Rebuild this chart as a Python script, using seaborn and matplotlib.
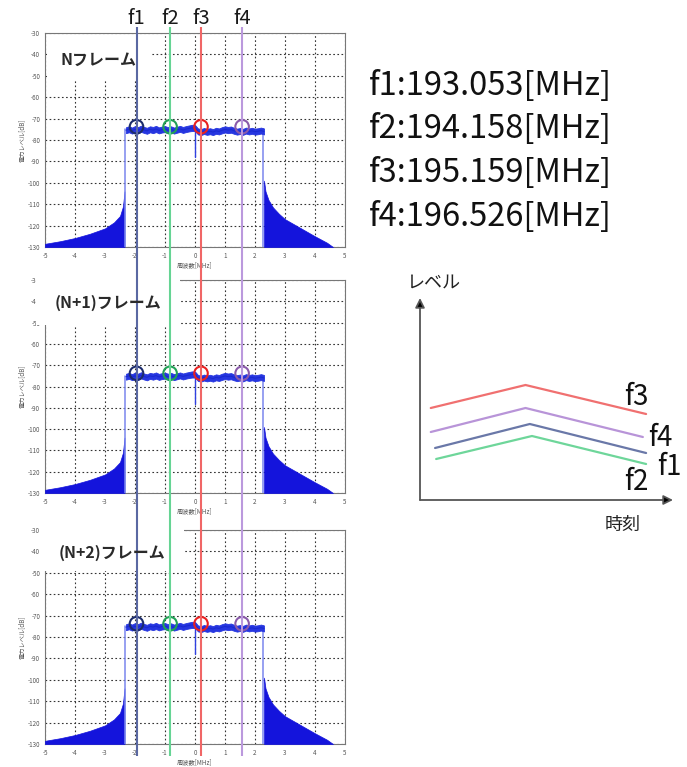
import numpy as np
import pandas as pd
import matplotlib
matplotlib.use("Agg")
import matplotlib.pyplot as plt
import seaborn as sns
from matplotlib.patches import Rectangle

sns.set_theme(style="white")
plt.rcParams['font.family'] = ['Noto Sans CJK JP', 'DejaVu Sans']

W, H = 687, 767

# ---------------- data ----------------
frame_labels = ["Nフレーム", "(N+1)フレーム", "(N+2)フレーム"]
marker_names = ["f1", "f2", "f3", "f4"]
marker_offsets = [-1.95, -0.83, 0.20, 1.57]          # MHz (relative)
marker_levels = [-73.8, -73.8, -73.8, -73.8]          # dB
freq_texts = ["f1:193.053[MHz]", "f2:194.158[MHz]", "f3:195.159[MHz]", "f4:196.526[MHz]"]
line_colors = ["#5a68a2", "#66d494", "#f06666", "#bb99dd"]
circle_colors = ["#1c2c6c", "#22a055", "#e82020", "#8a5aaa"]

x_ticks = [-5, -4, -3, -2, -1, 0, 1, 2, 3, 4, 5]
y_ticks = [-130, -120, -110, -100, -90, -80, -70, -60, -50, -40, -30]

plateau_x = [-2.3, -2.2, -2.1, -2.0, -1.9, -1.8, -1.7, -1.6, -1.5, -1.4, -1.3, -1.2,
             -1.1, -1.0, -0.9, -0.8, -0.7, -0.6, -0.5, -0.4, -0.3, -0.2, -0.1,
             0.0, 0.1, 0.2, 0.3, 0.4, 0.5, 0.6, 0.7, 0.8, 0.9, 1.0, 1.1, 1.2,
             1.3, 1.4, 1.5, 1.6, 1.7, 1.8, 1.9, 2.0, 2.1, 2.2, 2.3]
plateau_top = [-74.0, -73.6, -74.2, -73.5, -74.0, -73.3, -73.9, -74.3, -73.6, -73.9, -73.4, -74.1,
               -73.7, -73.5, -74.0, -73.6, -74.2, -73.8, -73.4, -73.9, -73.5, -73.2, -72.9,
               -73.0, -74.6, -74.9, -74.4, -74.8, -74.5, -74.9, -74.3, -74.6, -74.0, -73.6, -73.9, -73.7,
               -74.3, -74.7, -74.4, -74.8, -74.2, -74.6, -74.3, -74.7, -74.5, -74.2, -74.6]
plateau_bot = [-76.8, -76.4, -77.0, -76.5, -76.9, -76.2, -76.7, -77.1, -76.4, -76.8, -76.3, -76.9,
               -76.5, -76.3, -76.8, -76.4, -77.0, -76.6, -76.2, -76.7, -76.3, -76.0, -75.8,
               -75.8, -77.4, -77.7, -77.2, -77.6, -77.3, -77.7, -77.1, -77.4, -76.9, -76.5, -76.8, -76.6,
               -77.1, -77.5, -77.2, -77.6, -77.0, -77.4, -77.1, -77.5, -77.3, -77.0, -77.4]
dip_x = [0.0, 0.0]
dip_y = [-75.0, -88.0]
left_skirt_x = [-5.0, -4.5, -4.0, -3.5, -3.0, -2.7, -2.5, -2.4, -2.35]
left_skirt_y = [-128.5, -127.3, -125.8, -123.8, -121.3, -118.5, -115.5, -111.0, -104.0]
right_skirt_x = [2.3, 2.35, 2.45, 2.6, 2.8, 3.0, 3.5, 4.0, 4.4, 4.6]
right_skirt_y = [-99.0, -104.0, -108.0, -111.5, -114.5, -117.0, -121.0, -125.0, -128.0, -130.0]
edge_x = [-2.32, 2.28]

# schematic (level vs time)
sch_names = ["f3", "f4", "f1", "f2"]
sch_colors = ["#f07070", "#b894d8", "#6a78a8", "#6ed69a"]
sch_time = {"f3": [0.0, 0.88, 2.0], "f4": [0.0, 0.88, 1.97],
            "f1": [0.04, 0.92, 2.0], "f2": [0.05, 0.94, 2.0]}
sch_level = {"f3": [9.2, 11.5, 8.6], "f4": [6.8, 9.2, 6.3],
             "f1": [5.2, 7.6, 4.7], "f2": [4.1, 6.4, 3.6]}


def rect(l, t, r, b):
    return [l / W, 1 - b / H, (r - l) / W, (b - t) / H]


def fxy(x, y):
    return x / W, 1 - y / H


fig = plt.figure(figsize=(W / 100, H / 100), dpi=100)
fig.patch.set_facecolor("white")

panels = [(33, 247), (280, 493), (530, 744)]
boxes = [(47, 35, 152, 79), (36, 278, 180, 325), (40, 525, 184, 571)]
label_pos = [(98, 60), (108, 303), (112, 553)]

for i, (top, bot) in enumerate(panels):
    ax = fig.add_axes(rect(45, top, 345, bot))
    ax.set_xlim(-5, 5)
    ax.set_ylim(-130, -30)
    ax.set_xticks(x_ticks)
    ax.set_yticks(y_ticks)
    ax.set_xticklabels([str(v) for v in x_ticks])
    ax.set_yticklabels([str(v) for v in y_ticks])
    ax.tick_params(labelsize=4.5, colors="#555555", length=2, width=0.5, pad=1.5)
    ax.grid(True, color="#333333", linestyle=(0, (1.5, 2.2)), linewidth=0.8)
    for s in ax.spines.values():
        s.set_color("#777777")
        s.set_linewidth(0.8)
    ax.set_xlabel("周波数[MHz]", fontsize=4.5, color="#555555", labelpad=1)
    ax.set_ylabel("電力レベル[dB]", fontsize=4.5, color="#555555", labelpad=1)

    ax.fill_between(left_skirt_x, -130, left_skirt_y, color="#1414dc", lw=0.5, zorder=3)
    ax.fill_between(right_skirt_x, -130, right_skirt_y, color="#1414dc", lw=0.5, zorder=3)
    for ex in edge_x:
        ax.plot([ex, ex], [-130, -75], color="#7a86ee", lw=1.1, zorder=3)
    ax.fill_between(plateau_x, plateau_bot, plateau_top, color="#2636e0", lw=0.6, zorder=3)
    mid = [(a + b) / 2 for a, b in zip(plateau_top, plateau_bot)]
    sns.lineplot(x=plateau_x, y=mid, color="#1a2ad0", lw=0.8, ax=ax, zorder=4)
    ax.plot(dip_x, dip_y, color="#3040e0", lw=1.0, zorder=4)
    ax.scatter(marker_offsets, marker_levels, s=95, facecolors="none",
               edgecolors=circle_colors, linewidths=1.5, zorder=6)

    l, t, r, b = boxes[i]
    fig.patches.append(Rectangle((l / W, 1 - b / H), (r - l) / W, (b - t) / H,
                                 transform=fig.transFigure, facecolor="white",
                                 edgecolor="none", zorder=1))
    fig.text(*fxy(*label_pos[i]), frame_labels[i], fontsize=11.5, color="#2a2a2a",
             fontweight="bold", ha="center", va="center", zorder=3)

# overlay with the marker lines spanning all panels
ov = fig.add_axes(rect(45, 27, 345, 756), zorder=2)
ov.set_xlim(-5, 5)
ov.set_ylim(0, 1)
ov.axis("off")
ov.patch.set_alpha(0)
for xv, c in zip(marker_offsets, line_colors):
    ov.axvline(xv, color=c, lw=1.5)
for xv, name in zip(marker_offsets, marker_names):
    ov.text(xv, 1.0 + 9 / 729, name, ha="center", va="center", fontsize=14.5,
            color="#1a1a1a", transform=ov.transData)

# frequency list
for k, txt in enumerate(freq_texts):
    fig.text(*fxy(369, 86 + k * 43.5), txt, fontsize=23.5, color="#111111",
             ha="left", va="center")

# schematic
sx = fig.add_axes(rect(420, 298, 673, 500), zorder=2)
sx.set_xlim(-0.1, 2.25)
sx.set_ylim(0, 20.2)
sx.axis("off")
sx.patch.set_alpha(0)
rows = []
for n in sch_names:
    for tt, lv in zip(sch_time[n], sch_level[n]):
        rows.append({"series": n, "time": tt, "level": lv})
df = pd.DataFrame(rows)
sns.lineplot(data=df, x="time", y="level", hue="series", hue_order=sch_names,
             palette=sch_colors, lw=1.6, legend=False, sort=False, ax=sx)
sx.annotate("", xy=(0, 1), xytext=(0, 0), xycoords="axes fraction",
            arrowprops=dict(arrowstyle="-|>", color="#555555", lw=1.3,
                            mutation_scale=14, shrinkA=0, shrinkB=0, fc="black"))
sx.annotate("", xy=(1, 0), xytext=(0, 0), xycoords="axes fraction",
            arrowprops=dict(arrowstyle="-|>", color="#555555", lw=1.3,
                            mutation_scale=14, shrinkA=0, shrinkB=0, fc="black"))
for name, (px, py) in zip(["f3", "f4", "f1", "f2"],
                          [(636, 397), (660, 438), (669, 467), (636, 482)]):
    fig.text(*fxy(px, py), name, fontsize=20, color="#111111", ha="center", va="center")
fig.text(*fxy(434, 283), "レベル", fontsize=13, color="#222222", ha="center", va="center")
fig.text(*fxy(623, 525), "時刻", fontsize=13, color="#222222", ha="center", va="center")

fig.savefig("out.png", dpi=100)
